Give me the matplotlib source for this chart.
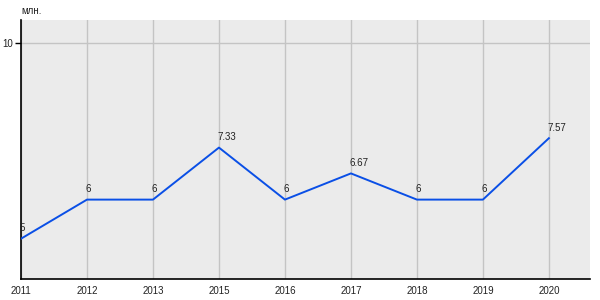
import matplotlib
matplotlib.use('Agg')
import matplotlib.pyplot as plt

# Chart data
years = ['2011', '2012', '2013', '2015', '2016', '2017', '2018', '2019', '2020']
values = [5, 6, 6, 7.33, 6, 6.67, 6, 6, 7.57]
value_labels = ['5', '6', '6', '7.33', '6', '6.67', '6', '6', '7.57']

plt.rcParams['font.family'] = ['Liberation Sans', 'DejaVu Sans']

fig = plt.figure(figsize=(6, 3), dpi=100)
ax = fig.add_axes([0.035, 0.07, 0.948, 0.863])
ax.set_facecolor('#ebebeb')

x = list(range(len(years)))
ax.plot(x, values, color='#0a4fe6', linewidth=1.4, zorder=3)

for xi, v, lab in zip(x, values, value_labels):
    ax.annotate(lab, (xi, v), xytext=(-1, 4), textcoords='offset points',
                fontsize=7, color='#222222', ha='left', va='bottom')

ax.set_xlim(0, 8.62)
ax.set_ylim(3.97, 10.59)
ax.set_xticks(x)
ax.set_xticklabels(years)
ax.set_yticks([10])
ax.set_yticklabels(['10'])

ax.grid(True, color='#c4c4c4', linewidth=1)
ax.set_axisbelow(True)

for side in ['top', 'right']:
    ax.spines[side].set_visible(False)
ax.spines['left'].set_color('black')
ax.spines['bottom'].set_color('black')
ax.spines['left'].set_linewidth(1.2)
ax.spines['bottom'].set_linewidth(1.2)

ax.tick_params(axis='x', length=0, labelsize=7, pad=5, colors='#222222')
ax.tick_params(axis='y', length=4, width=1, labelsize=7, pad=2, colors='black')
for lbl in ax.get_yticklabels():
    lbl.set_color('#222222')

fig.text(0.035, 0.945, 'млн.', fontsize=7, color='#222222', ha='left', va='bottom')

fig.savefig('out.png', dpi=100)
